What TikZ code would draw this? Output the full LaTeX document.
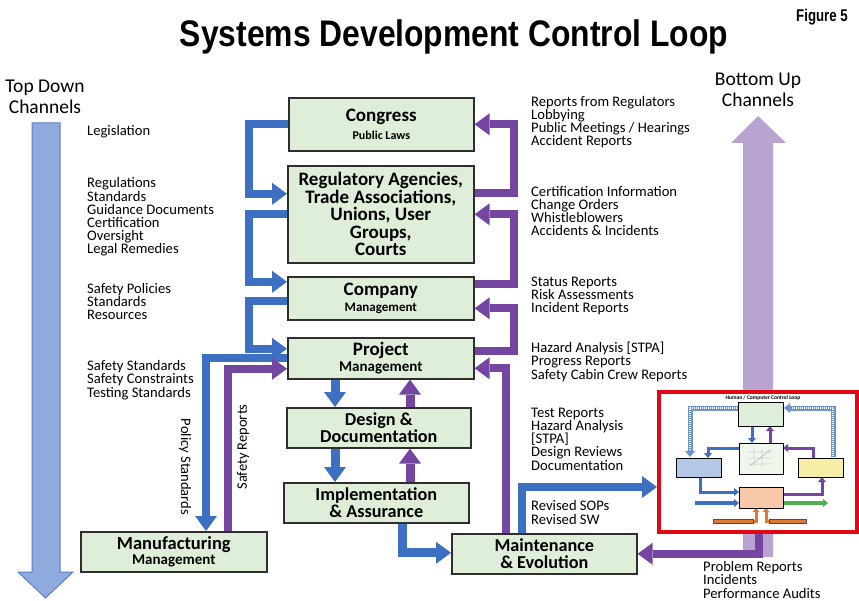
\documentclass[tikz,border=0pt]{standalone}
\usepackage{fontspec}
\setmainfont{Carlito}
\newfontfamily\titlefont{Liberation Sans}
\usetikzlibrary{arrows.meta,calc}
\definecolor{cblue}{HTML}{3D6FC2}
\definecolor{cpurple}{HTML}{7446A2}
\definecolor{boxfill}{HTML}{DFEED8}
\definecolor{boxline}{HTML}{2E2E2E}
\definecolor{bigblue}{HTML}{8FAADC}
\definecolor{bigblueline}{HTML}{5A7FC8}
\definecolor{bigpurple}{HTML}{B9A3D1}
\definecolor{redframe}{HTML}{E30613}
\definecolor{minibluebox}{HTML}{B4C7E7}
\definecolor{miniyellow}{HTML}{F6EDA6}
\definecolor{minipeach}{HTML}{F7C9A9}
\definecolor{miniorange}{HTML}{E0783A}
\definecolor{minigreen}{HTML}{4FAE4F}
\newcommand{\tightlines}{\lineskiplimit=-30pt\lineskip=0pt}
\tikzset{
  box/.style={draw=boxline, line width=1.6pt, fill=boxfill, inner sep=0pt,
    anchor=north west, align=center},
  twoline/.style={font=\bfseries\fontsize{18.2}{16.4}\selectfont\tightlines},
  conn/.style={line width=8pt, line join=miter,
    -{Triangle[width=22pt,length=15pt,line width=0pt]}},
  bconn/.style={conn, color=cblue},
  pconn/.style={conn, color=cpurple},
  lbl/.style={font=\fontsize{14.6}{13.2}\selectfont\tightlines, align=left, anchor=base west, inner sep=0pt},
  chan/.style={font=\fontsize{19.5}{21}\selectfont\tightlines, align=center, anchor=base, inner sep=0pt},
  marrow/.style={line width=3pt, line join=miter, -{Triangle[width=8pt,length=5pt,line width=0pt]}},
}
\begin{document}
\begin{tikzpicture}[x=1pt,y=-1pt]
\useasboundingbox (0,0) rectangle (859,601);
\fill[white] (0,0) rectangle (859,601);

% Title
\node[anchor=base, inner sep=0pt] (title) at (454,47)
  {\titlefont\bfseries\fontsize{37}{37}\selectfont\scalebox{0.86}[1]{Systems Development Control Loop}};
\node[anchor=base east, inner sep=0pt] (fig) at (848,22)
  {\titlefont\bfseries\fontsize{17}{17}\selectfont\scalebox{0.78}[1]{Figure 5}};

% Big channel arrows
\filldraw[fill=bigblue, draw=bigblueline, line width=1pt]
  (32,123) -- (60,123) -- (60,572) -- (73,572) -- (45.5,598) -- (18,572) -- (32,572) -- cycle;
\fill[bigpurple]
  (743,557) -- (773,557) -- (773,143) -- (786,143) -- (758,116) -- (731,143) -- (743,143) -- cycle;
\node[chan] (tdc) at (45,114) {Top Down\\Channels};
\node[chan] (buc) at (758,107) {Bottom Up\\Channels};

% Boxes
\node[box, minimum width=185pt, minimum height=53pt, font=\bfseries\fontsize{19}{18.5}\selectfont\tightlines] (congress) at (288,97)
  {{\fontsize{19}{19}\selectfont Congress}\\{\fontsize{12}{12}\selectfont Public Laws}};
\node[box, minimum width=186pt, minimum height=97pt, font=\bfseries\fontsize{19}{17.5}\selectfont\tightlines] (reg) at (287,165)
  {Regulatory Agencies,\\Trade Associations,\\Unions, User\\Groups,\\Courts};
\node[box, minimum width=186pt, minimum height=43pt, font=\bfseries\fontsize{19}{16.5}\selectfont\tightlines] (company) at (287,276)
  {{\fontsize{19}{19}\selectfont Company}\\{\fontsize{13}{13}\selectfont Management}};
\node[box, minimum width=186pt, minimum height=41pt, font=\bfseries\fontsize{19}{15.8}\selectfont\tightlines] (project) at (287,337)
  {{\fontsize{19}{19}\selectfont Project}\\{\fontsize{15}{15}\selectfont Management}};
\node[box, minimum width=184pt, minimum height=40pt, twoline] (design) at (286,407)
  {Design \&\\Documentation};
\node[box, minimum width=185pt, minimum height=40pt, twoline] (impl) at (283,482)
  {Implementation\\\& Assurance};
\node[box, minimum width=186pt, minimum height=40pt, font=\bfseries\fontsize{18.5}{15.8}\selectfont\tightlines] (manuf) at (80,531)
  {{\fontsize{18.5}{16}\selectfont Manufacturing}\\{\fontsize{15}{15}\selectfont Management}};
\node[box, minimum width=185pt, minimum height=40pt, twoline] (maint) at (451,533)
  {Maintenance\\\& Evolution};

% Red framed thumbnail
\node[draw=redframe, line width=4pt, fill=white, inner sep=0pt, anchor=north west,
      minimum width=198pt, minimum height=140pt] (redbox) at (657,390) {};

\begin{scope}
  \node[inner sep=0pt, font=\bfseries\fontsize{5.5}{5.5}\selectfont] (minititle) at (763,398) {Human / Computer Control Loop};
  % striped channels
  \draw[line width=5pt, color=cblue!75, line join=miter, -{Triangle[width=10pt,length=6pt,line width=0pt]}]
    (738,408) -- (690,408) -- (690,457);
  \draw[line width=2.6pt, white, dash pattern=on 1pt off 1pt] (737,408) -- (690,408) -- (690,450);
  \draw[line width=5pt, color=cblue!75, line join=miter, -{Triangle[width=10pt,length=6pt,line width=0pt]}]
    (833,457) -- (833,408) -- (784,408);
  \draw[line width=2.6pt, white, dash pattern=on 1pt off 1pt] (833,456) -- (833,408) -- (791,408);
  % arrows
  \draw[marrow, cblue] (752,426) -- (752,443);
  \draw[marrow, cpurple] (770,443) -- (770,426);
  \draw[marrow, cblue] (739,448) -- (708,448) -- (708,458);
  \draw[marrow, cpurple] (813,458) -- (813,448) -- (783,448);
  \draw[marrow, cblue] (700,477) -- (700,492) -- (739,492);
  \draw[marrow, cpurple] (783,494) -- (822,494) -- (822,477);
  \draw[marrow, cblue, line width=4pt] (695,503) -- (739,503);
  \draw[marrow, minigreen, line width=4pt] (783,503) -- (828,503);
  \draw[line width=3pt, miniorange, line join=miter, -{Triangle[width=7pt,length=4pt,line width=0pt]}] (730,521) -| (756,508);
  \draw[line width=3pt, miniorange, line join=miter, -{Triangle[width=7pt,length=4pt,line width=0pt]}] (790,521) -| (766,508);
  \filldraw[fill=miniorange, draw=black!70, line width=0.5pt] (713,519.5) rectangle (753,523.5);
  \filldraw[fill=miniorange, draw=black!70, line width=0.5pt] (769,519.5) rectangle (806,523.5);
  % mini boxes
  \filldraw[fill=boxfill, draw=black, line width=0.9pt] (738,402) rectangle (783,426);
  \filldraw[fill=boxfill!50, draw=black, line width=0.9pt] (739,443) rectangle (783,474);
  \draw[gray!70, line width=0.4pt] (748,452) -- (772,452) (748,458) -- (772,458) (748,464) -- (772,464)
    (754,449) -- (754,467) (762,449) -- (762,467) (750,466) -- (770,450);
  \filldraw[fill=minibluebox, draw=black, line width=0.9pt] (676,458) rectangle (721,477);
  \filldraw[fill=miniyellow, draw=black, line width=0.9pt] (798,458) rectangle (843,477);
  \filldraw[fill=minipeach, draw=black, line width=0.9pt] (739,487) rectangle (783,508);
\end{scope}

% Left-side blue connectors
\draw[bconn] (congress.west) -- ++(-39,0) |- ($(reg.west)+(0,-20.5)$);
\draw[bconn] (reg.west) -- ++(-38,0) |- ($(company.west)+(0,-16.5)$);
\draw[bconn] ($(company.west)+(0,2.5)$) -- ++(-38,0) |- ($(project.west)+(0,-9.5)$);
\draw[bconn] (project.west) -| ($(manuf.north west)+(126,0)$);
\draw[pconn] ($(manuf.north west)+(148,0)$) |- ($(project.west)+(0,10.5)$);

% Vertical flows
\draw[bconn, line width=9pt] ($(project.south west)+(48,0)$) -- ($(design.north west)+(49,0)$);
\draw[pconn, line width=9pt] ($(design.north west)+(124,0)$) -- ($(project.south west)+(123,0)$);
\draw[bconn, line width=9pt] ($(design.south west)+(49,0)$) -- ($(impl.north west)+(52,0)$);
\draw[pconn, line width=9pt] ($(impl.north west)+(127,0)$) -- ($(design.south west)+(124,0)$);
\draw[bconn, line width=9pt] ($(impl.south west)+(119,0)$) |- ($(maint.west)+(0,-1)$);

% Right-side purple connectors
\draw[pconn] ($(reg.east)+(0,-21.5)$) -- ++(39,0) |- (congress.east);
\draw[pconn] ($(company.east)+(0,-14.5)$) -- ++(39,0) |- (reg.east);
\draw[pconn] ($(project.east)+(0,-7.5)$) -- ++(39,0) |- ($(company.east)+(0,10)$);
\draw[pconn] ($(maint.north west)+(55,0)$) |- ($(project.east)+(0,10)$);
\draw[bconn] ($(maint.north west)+(71,0)$) |- ($(redbox.west)+(0,25)$);
\draw[pconn] ($(redbox.south west)+(102,0)$) |- (maint.east);

% Rotated labels
\node[font=\fontsize{14.5}{13}\selectfont, rotate=-90, inner sep=0pt] (policy) at (185,467) {Policy Standards};
\node[font=\fontsize{14.5}{13}\selectfont, rotate=90, inner sep=0pt] (safetyrep) at (243,447) {Safety Reports};

% Left text column (anchor = baseline of last line)
\node[lbl] (t1) at (87,136) {Legislation};
\node[lbl] (t2) at (87,254) {Regulations\\Standards\\Guidance Documents\\Certification\\Oversight\\Legal Remedies};
\node[lbl] (t3) at (87,320) {Safety Policies\\Standards\\Resources};
\node[lbl] (t4) at (87,397) {Safety Standards\\Safety Constraints\\Testing Standards};

% Right text column
\node[lbl] (r1) at (531,146) {Reports from Regulators\\Lobbying\\Public Meetings / Hearings\\Accident Reports};
\node[lbl] (r2) at (531,236) {Certification Information\\Change Orders\\Whistleblowers\\Accidents \& Incidents};
\node[lbl] (r3) at (531,313) {Status Reports\\Risk Assessments\\Incident Reports};
\node[lbl] (r4) at (531,379) {Hazard Analysis [STPA]\\Progress Reports\\Safety Cabin Crew Reports};
\node[lbl] (r5) at (531,470) {Test Reports\\Hazard Analysis\\{[STPA]}\\Design Reviews\\Documentation};
\node[lbl] (r6) at (531,524) {Revised SOPs\\Revised SW};
\node[lbl] (r7) at (703,598) {Problem Reports\\Incidents\\Performance Audits};
\end{tikzpicture}
\end{document}
